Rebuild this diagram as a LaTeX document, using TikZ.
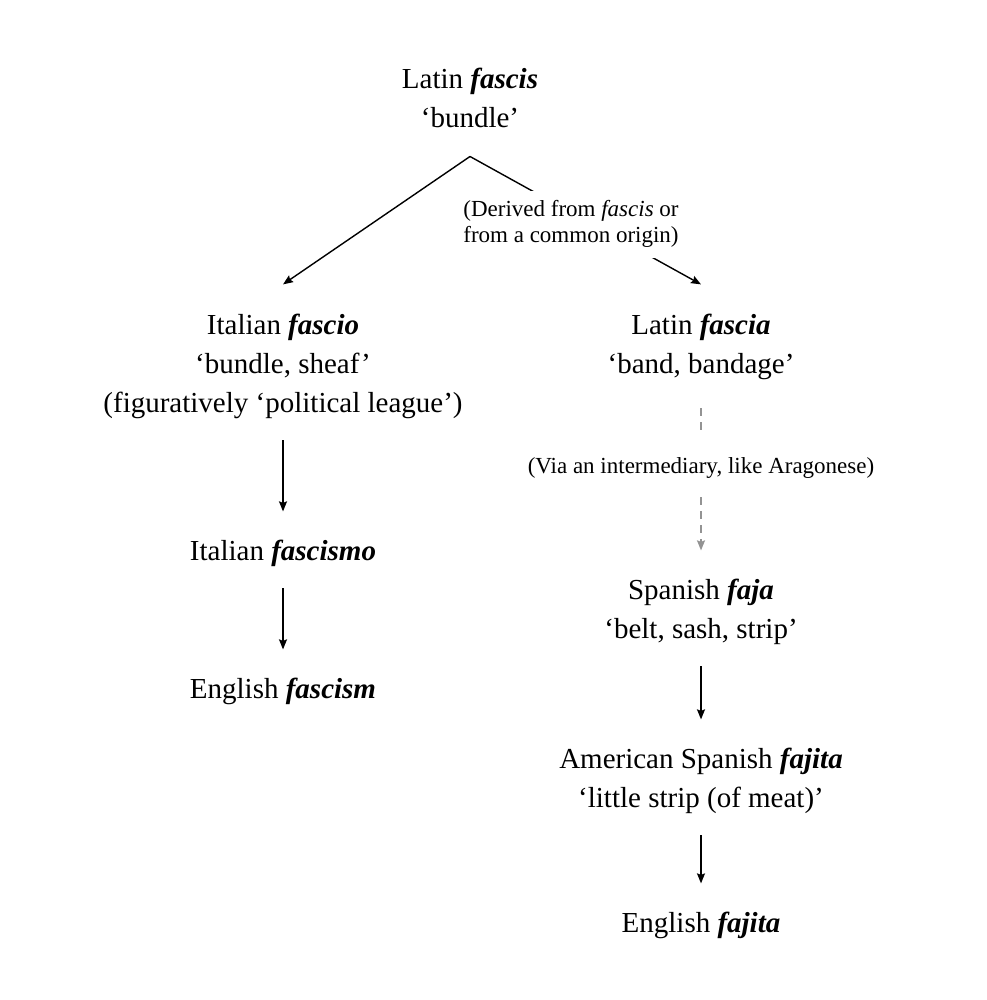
\documentclass[tikz,border=0pt]{standalone}
\usepackage{fontspec}
\setmainfont{Liberation Serif}
\usetikzlibrary{positioning, arrows.meta}
\newcommand{\word}[1]{\textbf{\textit{#1}}}
\tikzset{
  entry/.style={align=center, inner sep=0pt, anchor=base, font=\fontsize{29}{39}\selectfont},
  note/.style={align=center, inner sep=10pt, anchor=base, fill=white, font=\fontsize{23}{26}\selectfont},
  link/.style={-{Stealth[length=10pt, width=8pt, inset=1.5pt]}, line width=1.4pt, shorten <=22pt, shorten >=28pt},
  hint/.style={line width=1.4pt, gray!85, dash pattern=on 8pt off 6pt},
}

\begin{document}
\begin{tikzpicture}[x=1pt, y=-1pt]
  \useasboundingbox[fill=white] (0,0) rectangle (986,1000);

  % words (base = last line)
  \node[entry] (latin) at (470,128) {Latin \word{fascis}\\‘bundle’};
  \node[entry] (fascio) at (283,412) {Italian \word{fascio}\\‘bundle, sheaf’\\(figuratively ‘political league’)};
  \node[entry] (fascismo) at (283,560) {Italian \word{fascismo}};
  \node[entry] (fascism) at (283,698) {English \word{fascism}};
  \node[entry] (fascia) at (701,373) {Latin \word{fascia}\\‘band, bandage’};
  \node[entry, font=\fontsize{23}{26}\selectfont] (via) at (701,473) {(Via an intermediary, like Aragonese)};
  \node[entry] (faja) at (701,638) {Spanish \word{faja}\\‘belt, sash, strip’};
  \node[entry] (american) at (701,807) {American Spanish \word{fajita}\\‘little strip (of meat)’};
  \node[entry] (fajita) at (701,932) {English \word{fajita}};

  % fork
  \coordinate (fork) at ([yshift=-28pt]latin.south);
  \draw[link, shorten <=0pt, shorten >=0pt] (fork) -- ([yshift=29pt]fascio.north);
  \draw[link, shorten <=0pt, shorten >=0pt] (fork) -- ([yshift=29pt]fascia.north);
  \node[note] (derived) at (571,243) {(Derived from \textit{fascis} or\\from a common origin)};

  % arrows
  \draw[link] (fascio) -- (fascismo);
  \draw[link] (fascismo) -- (fascism);
  \draw[hint, shorten <=29pt, shorten >=25pt] (fascia) -- (via);
  \draw[link, hint, shorten <=19pt, shorten >=28pt] (via) -- (faja);
  \draw[link] (faja) -- (american);
  \draw[link] (american) -- (fajita);
\end{tikzpicture}
\end{document}
